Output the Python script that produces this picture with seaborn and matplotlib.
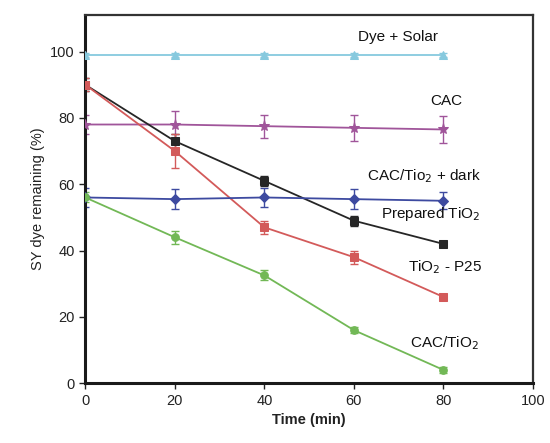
import matplotlib
matplotlib.use("Agg")
import matplotlib.pyplot as plt
import numpy as np
import pandas as pd
import seaborn as sns

time_min = [0, 20, 40, 60, 80]

dye_solar = [99, 99, 99, 99, 99]
cac = [78, 78, 77.5, 77, 76.5]
prepared_tio2 = [90, 73, 61, 49, 42]
tio2_p25 = [90, 70, 47, 38, 26]
cac_tio2_dark = [56, 55.5, 56, 55.5, 55]
cac_tio2 = [56, 44, 32.5, 16, 4]

err_dye_solar = [0.5, 0.5, 0.5, 0.5, 0.5]
err_cac = [3, 4, 3.5, 4, 4]
err_prepared = [2, 2, 1.5, 1.5, 1]
err_p25 = [2, 5, 2, 2, 1]
err_dark = [3, 3, 3, 3, 2.5]
err_cac_tio2 = [1.5, 2, 1.5, 1, 1]

series = ["Dye + Solar", "CAC", "Prepared TiO$_2$", "TiO$_2$ - P25",
          "CAC/TiO$_2$ + dark", "CAC/TiO$_2$"]
# text shown on the chart for each series (typo kept as in the original)
labels = ["Dye + Solar", "CAC", "Prepared TiO$_2$", "TiO$_2$ - P25",
          "CAC/Tio$_2$ + dark", "CAC/TiO$_2$"]
values = [dye_solar, cac, prepared_tio2, tio2_p25, cac_tio2_dark, cac_tio2]
errors = [err_dye_solar, err_cac, err_prepared, err_p25, err_dark, err_cac_tio2]
colors = ["#86c9de", "#a0559a", "#262626", "#d35a5a", "#3d4aa0", "#72b856"]
markers = ["^", "*", "s", "s", "D", "o"]

rows = []
for name, vals, errs in zip(series, values, errors):
    for t, v, e in zip(time_min, vals, errs):
        rows.append({"Time": t, "Remaining": v, "err": e, "Series": name})
df = pd.DataFrame(rows)

sns.set_theme(style="white")
plt.rcParams["font.family"] = ["Liberation Sans", "DejaVu Sans"]

fig = plt.figure(figsize=(5.5, 4.43), dpi=100)
ax = fig.add_axes([0.155, 0.135, 0.814, 0.831])

for name, col, mk in zip(series, colors, markers):
    sub = df[df["Series"] == name]
    ax.errorbar(sub["Time"], sub["Remaining"], yerr=sub["err"], fmt="none",
                ecolor=col, elinewidth=1.0, capsize=3, capthick=1.0, zorder=2)
    sns.lineplot(data=sub, x="Time", y="Remaining", ax=ax, color=col,
                 marker=mk, markersize=8 if mk == "*" else 5.5,
                 markeredgecolor=col, linewidth=1.3,
                 legend=False, zorder=3)

# label anchors (left edge, vertical centre) in data coordinates
label_pos = [(61, 104.5), (77, 85), (66, 51), (72, 35), (63, 62.5), (72.5, 12)]
for txt, (lx, ly) in zip(labels, label_pos):
    ax.text(lx, ly, txt, fontsize=11, color="#111111", ha="left", va="center")

ax.set_xlim(0, 100)
ax.set_ylim(0, 111)
ax.set_xticks([0, 20, 40, 60, 80, 100])
ax.set_yticks([0, 20, 40, 60, 80, 100])
ax.tick_params(axis="both", direction="out", length=4, width=1,
               labelsize=10.5, colors="#222222", bottom=True, left=True)
ax.set_xlabel("Time (min)", fontsize=10.5, fontweight="bold", color="#222222")
ax.set_ylabel("SY dye remaining (%)", fontsize=10.5, color="#222222")

for side in ["left", "bottom"]:
    ax.spines[side].set_linewidth(2.2)
    ax.spines[side].set_color("#1a1a1a")
for side in ["top", "right"]:
    ax.spines[side].set_linewidth(1.6)
    ax.spines[side].set_color("#333333")

fig.savefig("out.png", dpi=100)
